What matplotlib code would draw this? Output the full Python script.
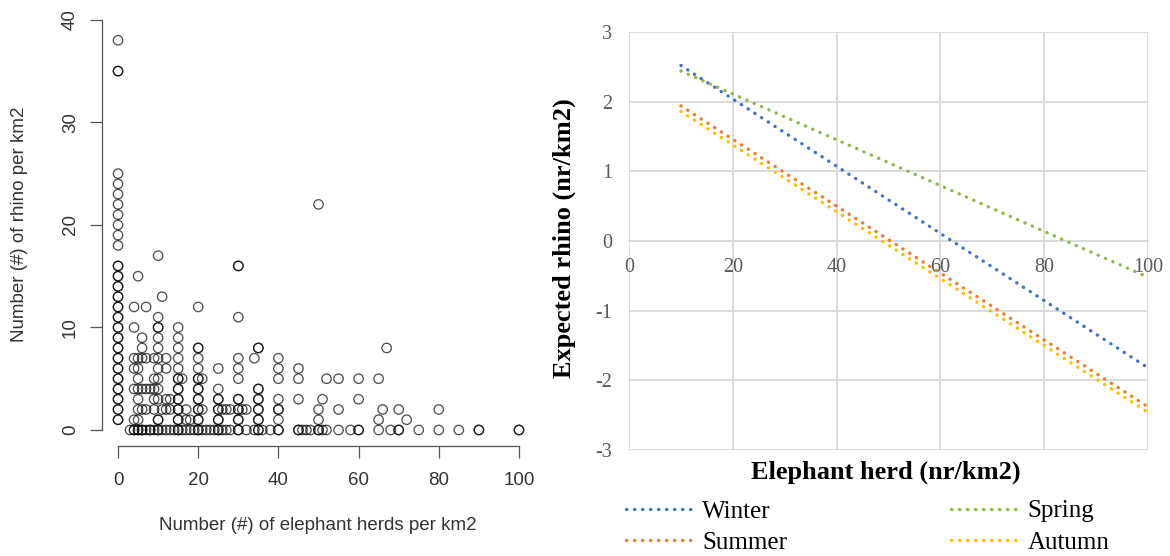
import matplotlib
matplotlib.use("Agg")
import matplotlib.pyplot as plt

plt.rcParams["axes.unicode_minus"] = False

# left panel: observed rhino counts for each elephant-herd density
# (a value listed twice is a spot where several surveys overlap)
herd_levels = [0, 3, 4, 5, 6, 7, 8, 9, 10, 11, 12, 13, 14, 15, 16, 17, 18, 19,
               20, 21, 22, 23, 24, 25, 26, 27, 28, 30, 31, 32, 34, 35, 36, 38,
               40, 45, 46, 47, 48, 50, 51, 52, 55, 58, 60, 65, 66, 67, 68, 70,
               72, 75, 80, 85, 90, 100]
rhino_counts = [
    [1, 1, 2, 2, 3, 3, 4, 4, 5, 5, 6, 6, 7, 7, 8, 8, 9, 9, 10, 10, 11, 11, 12, 12,
     13, 13, 14, 14, 15, 15, 16, 16, 18, 19, 20, 21, 22, 23, 24, 25, 35, 35, 38],
    [0],
    [0, 0, 1, 4, 6, 7, 10, 12],
    [0, 0, 1, 2, 3, 4, 5, 6, 7, 15],
    [0, 0, 2, 4, 7, 8, 9],
    [0, 2, 4, 7, 12],
    [0, 0, 4],
    [0, 2, 3, 4, 5, 7],
    [0, 0, 1, 1, 3, 4, 5, 6, 7, 8, 9, 10, 10, 11, 17],
    [0, 2, 13],
    [0, 2, 3, 6, 7],
    [0, 2, 3],
    [0],
    [0, 0, 1, 1, 2, 2, 3, 3, 4, 4, 5, 5, 6, 7, 8, 9, 10],
    [0, 5],
    [0, 1, 2],
    [0, 1],
    [0],
    [0, 0, 1, 1, 2, 2, 3, 3, 4, 4, 5, 5, 6, 7, 8, 8, 12],
    [0, 2, 5],
    [0],
    [0],
    [0],
    [0, 0, 1, 1, 2, 2, 3, 3, 4, 6],
    [0, 2],
    [0, 2],
    [0, 2],
    [0, 0, 1, 1, 2, 2, 3, 3, 5, 6, 7, 11, 16, 16],
    [2],
    [0, 2],
    [0, 7],
    [0, 0, 1, 1, 2, 2, 3, 3, 4, 4, 8, 8],
    [0],
    [0],
    [0, 0, 1, 2, 2, 3, 5, 6, 7],
    [0, 0, 3, 5, 6],
    [0],
    [0],
    [0],
    [0, 0, 1, 2, 22],
    [0, 3],
    [0, 5],
    [0, 2, 5],
    [0],
    [0, 0, 3, 5],
    [0, 1, 5],
    [2],
    [8],
    [0],
    [0, 0, 2],
    [1],
    [0],
    [0, 2],
    [0],
    [0, 0],
    [0, 0],
]

# right panel: fitted lines per season
herd_fit = [10, 100]
winter = [2.52, -1.82]
summer = [1.94, -2.38]
spring = [2.44, -0.52]
autumn = [1.86, -2.46]

seasons = ["Winter", "Summer", "Spring", "Autumn"]
season_colors = ["#4472C4", "#ED7D31", "#8DB94E", "#FFC000"]

W, H = 1170, 556
fig = plt.figure(figsize=(W / 100, H / 100), dpi=100)

# ---- left: R style scatter ----
ax1 = fig.add_axes([102 / W, (H - 446.4) / H, 433 / W, 443 / H])
xs, ys = [], []
for herd, counts in zip(herd_levels, rhino_counts):
    for c in counts:
        xs.append(herd)
        ys.append(c)
ax1.scatter(xs, ys, s=46, facecolors="none", edgecolors="black",
            linewidths=0.95, alpha=0.68)
ax1.set_xlim(-4, 104)
ax1.set_ylim(-1.6, 41.6)
for side in ["top", "right"]:
    ax1.spines[side].set_visible(False)
ax1.spines["left"].set_bounds(0, 40)
ax1.spines["bottom"].set_bounds(0, 100)
for side in ["left", "bottom"]:
    ax1.spines[side].set_color("#555555")
    ax1.spines[side].set_linewidth(0.9)
ax1.set_xticks([0, 20, 40, 60, 80, 100])
ax1.set_yticks([0, 10, 20, 30, 40])
ax1.tick_params(direction="out", length=8.5, width=0.9, color="#555555",
                labelcolor="#333333", labelsize=13.5)
ax1.tick_params(axis="x", pad=10)
ax1.tick_params(axis="y", pad=8)
for lab in ax1.get_yticklabels():
    lab.set_rotation(90)
    lab.set_va("center")
fig.text(318 / W, 1 - 525 / H, "Number (#) of elephant herds per km2",
         ha="center", va="center", fontsize=13.5, color="#333333",
         family="Liberation Sans")
fig.text(20 / W, 1 - 224 / H, "Number (#) of rhino per km2", rotation=90,
         ha="center", va="center", fontsize=13.5, color="#333333",
         family="Liberation Sans")
for lab in ax1.get_xticklabels() + ax1.get_yticklabels():
    lab.set_family("Liberation Sans")

# ---- right: Excel style fitted lines ----
serif = "Liberation Serif"
ax2 = fig.add_axes([629 / W, (H - 450) / H, 519 / W, 418 / H])
series = [winter, summer, spring, autumn]
for name, vals, col in zip(seasons, series, season_colors):
    ax2.plot(herd_fit, vals, color=col, lw=2.4, linestyle=(0, (0.1, 2.3)),
             dash_capstyle="round", label=name, zorder=3)
ax2.set_xlim(0, 100)
ax2.set_ylim(-3, 3)
ax2.set_xticks([0, 20, 40, 60, 80, 100])
ax2.set_yticks([-3, -2, -1, 0, 1, 2, 3])
ax2.grid(True, color="#d9d9d9", lw=1.3, zorder=0)
for side in ["top", "right", "left"]:
    ax2.spines[side].set_visible(False)
ax2.spines["bottom"].set_position(("data", 0))
ax2.spines["bottom"].set_color("#d9d9d9")
ax2.spines["bottom"].set_linewidth(1.3)
ax2.tick_params(length=0, labelcolor="#595959", labelsize=14.5)
ax2.tick_params(axis="x", pad=12)
ax2.tick_params(axis="y", pad=12)
for lab in ax2.get_xticklabels() + ax2.get_yticklabels():
    lab.set_family(serif)
ax2.set_axisbelow(True)

fig.text(886 / W, 1 - 472 / H, "Elephant herd (nr/km2)", ha="center",
         va="center", fontsize=19, fontweight="bold", family=serif)
fig.text(564 / W, 1 - 238 / H, "Expected rhino (nr/km2)", rotation=90,
         ha="center", va="center", fontsize=19, fontweight="bold", family=serif)

fig.legend(loc="upper left", bbox_to_anchor=(626 / W, 1 - 500 / H), ncol=2,
           frameon=False, borderpad=0, borderaxespad=0, handlelength=2.8,
           handletextpad=0.25, columnspacing=6.55, labelspacing=0.35,
           prop={"family": serif, "size": 18})

fig.savefig("out.png", dpi=100)
